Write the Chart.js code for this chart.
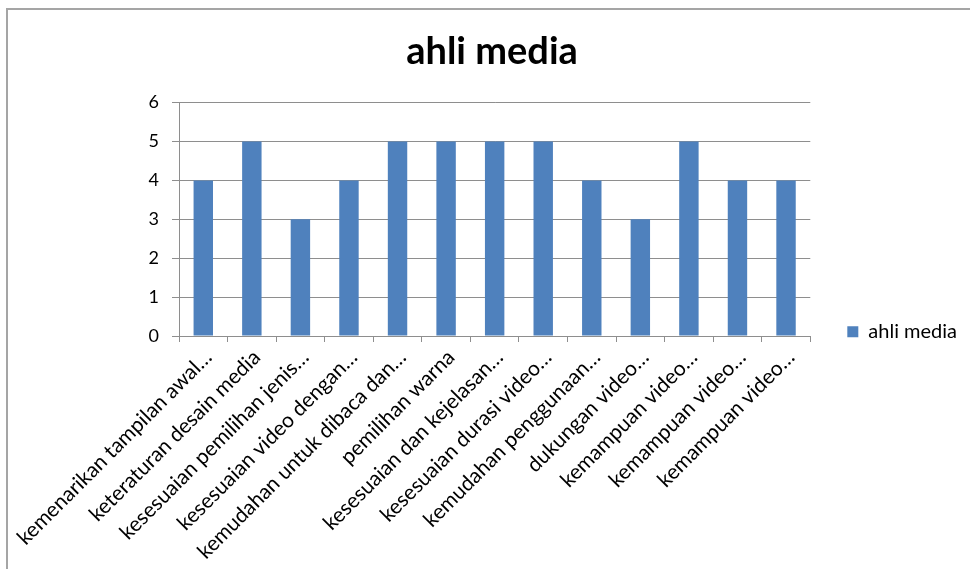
<!DOCTYPE html>
<html>
<head>
<meta charset="utf-8">
<script src="https://cdn.jsdelivr.net/npm/chart.js@4"></script>
<style>
  html, body { margin: 0; padding: 0; background: #fff; }
  #wrap { position: relative; width: 970px; height: 569px; }
  #frame {
    position: absolute; left: 6px; top: 8px; right: -10px; bottom: -10px;
    border-left: 2px solid #a5a5a5; border-top: 2px solid #a5a5a5;
    pointer-events: none;
  }
  canvas { position: absolute; left: 0; top: 0; }
</style>
</head>
<body>
<div id="wrap">
  <canvas id="chart" width="970" height="569"></canvas>
  <div id="frame"></div>
</div>
<script>
// category labels as cut short in the picture
let categories = [
    'kemenarikan tampilan awal…',
    'keteraturan desain media',
    'kesesuaian pemilihan jenis…',
    'kesesuaian video dengan…',
    'kemudahan untuk dibaca dan…',
    'pemilihan warna',
    'kesesuaian dan kejelasan…',
    'kesesuaian durasi video…',
    'kemudahan penggunaan…',
    'dukungan video…',
    'kemampuan video…',
    'kemampuan video…',
    'kemampuan video…'
];
let ahliMedia = [4, 5, 3, 4, 5, 5, 5, 5, 4, 3, 5, 4, 4];
let yTicks = [0, 1, 2, 3, 4, 5, 6];

let seriesName = 'ahli media';
let barColor = '#4f81bd';
let gridColor = '#8e8e8e';
let fontName = 'Lato, "Open Sans", sans-serif';

Chart.defaults.font.family = fontName;
Chart.defaults.color = '#000';

let ctx = document.getElementById('chart').getContext('2d');
let chart = new Chart(ctx, {
    type: 'bar',
    data: {
        labels: categories,
        datasets: [{
            label: seriesName,
            data: ahliMedia,
            backgroundColor: barColor,
            categoryPercentage: 1,
            barPercentage: 0.4
        }]
    },
    options: {
        responsive: false,
        animation: false,
        layout: {
            padding: { left: 17, top: 10, right: 3, bottom: 0 }
        },
        plugins: {
            title: {
                display: true,
                text: seriesName,
                color: '#000',
                font: { size: 38, weight: 'bold' },
                padding: { top: 19, bottom: 28 }
            },
            legend: {
                position: 'right',
                title: {
                    display: true,
                    text: '',
                    font: { size: 12 },
                    padding: { top: 70, bottom: 0 }
                },
                labels: {
                    boxWidth: 11,
                    boxHeight: 11,
                    padding: 37,
                    font: { size: 20 },
                    color: '#000'
                }
            },
            tooltip: { enabled: false }
        },
        scales: {
            x: {
                offset: true,
                afterFit: function (axis) {
                    axis.height = 233;
                    axis.paddingLeft = 0;
                },
                grid: {
                    offset: true,
                    drawOnChartArea: false,
                    drawTicks: true,
                    tickLength: 6,
                    color: gridColor
                },
                border: { color: gridColor },
                ticks: {
                    minRotation: 45,
                    maxRotation: 45,
                    autoSkip: false,
                    labelOffset: 5,
                    font: { size: 21 },
                    color: '#000'
                }
            },
            y: {
                min: 0,
                max: 6,
                afterBuildTicks: function (axis) {
                    axis.ticks = yTicks.map(function (v) { return { value: v }; });
                },
                afterFit: function (axis) {
                    axis.width = 162;
                },
                grid: {
                    color: gridColor,
                    tickLength: 7
                },
                border: { color: gridColor },
                ticks: {
                    font: { size: 18 },
                    color: '#000',
                    padding: 13
                }
            }
        }
    }
});
</script>
</body>
</html>
